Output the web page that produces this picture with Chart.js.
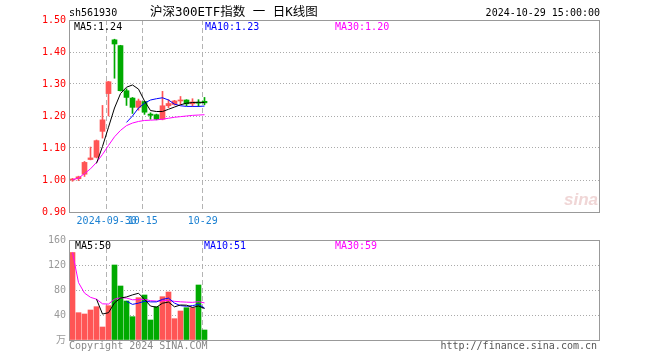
<!DOCTYPE html>
<html>
<head>
<meta charset="utf-8">
<script src="https://cdn.jsdelivr.net/npm/chart.js@4"></script>
<style>
  body { margin: 0; background: #fff; }
  #wrap { position: relative; width: 660px; height: 360px; }
  #kline { position: absolute; left: 0; top: 0; }
  #vol { position: absolute; left: 0; top: 230px; }
</style>
</head>
<body>
<div id="wrap">
  <canvas id="kline" width="660" height="232"></canvas>
  <canvas id="vol" width="660" height="130"></canvas>
</div>
<script>
// trading days
const days = ['09-20', '09-23', '09-24', '09-25', '09-26', '09-27', '09-30', '10-08', '10-09', '10-10', '10-11', '10-14',
              '10-15', '10-16', '10-17', '10-18', '10-21', '10-22', '10-23', '10-24', '10-25', '10-28', '10-29'];

const open  = [1.000, 1.004, 1.018, 1.064, 1.071, 1.152, 1.270, 1.438, 1.420, 1.279, 1.256, 1.227,
               1.245, 1.206, 1.204, 1.190, 1.232, 1.236, 1.247, 1.250, 1.238, 1.242, 1.246];
const close = [1.003, 1.010, 1.055, 1.069, 1.123, 1.188, 1.307, 1.425, 1.279, 1.258, 1.227, 1.247,
               1.212, 1.202, 1.190, 1.232, 1.239, 1.247, 1.249, 1.238, 1.244, 1.240, 1.241];
const high  = [1.005, 1.012, 1.058, 1.103, 1.125, 1.233, 1.308, 1.440, 1.421, 1.285, 1.258, 1.253,
               1.246, 1.210, 1.206, 1.277, 1.251, 1.249, 1.261, 1.251, 1.254, 1.251, 1.258];
const low   = [0.996, 0.998, 1.011, 1.063, 1.069, 1.131, 1.200, 1.318, 1.278, 1.233, 1.208, 1.218,
               1.205, 1.190, 1.188, 1.188, 1.226, 1.234, 1.236, 1.232, 1.230, 1.230, 1.235];

// moving averages
const ma5  = [null, null, null, null, 1.052, 1.105, 1.165, 1.225, 1.270, 1.290, 1.297, 1.284,
              1.247, 1.217, 1.214, 1.214, 1.221, 1.228, 1.235, 1.240, 1.242, 1.243, 1.242];
const ma10 = [null, null, null, null, null, null, null, null, null, 1.180, 1.200, 1.225,
              1.240, 1.250, 1.254, 1.257, 1.250, 1.237, 1.232, 1.230, 1.230, 1.230, 1.231];
const ma30 = [1.001, 1.006, 1.020, 1.035, 1.055, 1.080, 1.108, 1.135, 1.155, 1.170, 1.178, 1.183,
              1.186, 1.187, 1.188, 1.190, 1.193, 1.196, 1.198, 1.200, 1.202, 1.203, 1.204];

// volume (万)
const volume = [140, 43.7, 41.6, 48, 53.3, 20.8, 54.9, 120, 86.4, 62.4, 37.3, 67.7,
                72, 32, 53.3, 69.3, 76.8, 34.1, 46.4, 51.7, 51.7, 88, 16];
const vma5  = [null, null, null, null, 65.3, 41.5, 43.7, 59.4, 67.1, 68.9, 72.2, 74.8,
               65.2, 54.3, 52.5, 58.9, 60.7, 53.1, 56.0, 55.7, 52.1, 54.4, 50.4];
const vma10 = [null, null, null, null, null, null, null, null, null, 62, 57, 59,
               62, 61, 61, 65, 67, 59, 55, 54, 55, 57, 51.2];
const vma30 = [140, 91.9, 75.1, 68.3, 65.3, 57.9, 57.5, 65.3, 67.6, 67.1, 64.4, 64.7,
               65.2, 62.9, 62.2, 62.7, 63.5, 61.9, 61.1, 60.6, 60.2, 61.4, 59.4];

// tick labels
const priceTicks = [0.9, 1.0, 1.1, 1.2, 1.3, 1.4, 1.5];
const volTicks = [0, 40, 80, 120, 160];
const dateTickDays = ['09-30', '10-15', '10-29'];
const dateLabels = ['2024-09-30', '10-15', '10-29'];

const mono = "'DejaVu Sans Mono', 'Noto Sans CJK SC', monospace";
const RED = '#ff5555', GREEN = '#00aa00';
const colors = open.map((o, i) => close[i] >= o ? RED : GREEN);

// x: one day = 6px, plot 70..599
const xMin = -5 / 12, xMax = 87.75;
const dateTicks = dateTickDays.map(d => days.indexOf(d) - 0.3);

function pts(arr) {
    return arr.map((v, i) => ({x: i, y: v}));
}

function lineSet(arr, color) {
    return {type: 'line', data: pts(arr), borderColor: color, borderWidth: 1, pointRadius: 0, tension: 0, order: 1};
}

const xScale = (showLabels) => ({
    type: 'linear', min: xMin, max: xMax, offset: false,
    afterBuildTicks: s => { s.ticks = dateTicks.map(v => ({value: v})); },
    afterFit: s => { s.height = 20; },
    ticks: {display: showLabels, autoSkip: false, maxRotation: 0, minRotation: 0, padding: 3,
            color: '#1e82d2', font: {family: mono, size: 10},
            callback: (v, i) => dateLabels[i]},
    grid: {color: '#b4b4b4', drawTicks: false, offset: false},
    border: {display: false, dash: [5, 3]}
});

const framePlugin = {
    id: 'frame',
    beforeDatasetsDraw(chart) {
        const {ctx, chartArea: a} = chart;
        ctx.save();
        ctx.strokeStyle = '#999';
        ctx.lineWidth = 1;
        ctx.strokeRect(a.left - 0.5, a.top + 0.5, a.right - a.left + 1, a.bottom - a.top);
        ctx.restore();
    }
};

function legend(ctx, y, items) {
    ctx.save();
    ctx.font = '10px ' + mono;
    ctx.textBaseline = 'middle';
    items.forEach(([x, text, color]) => {
        ctx.fillStyle = color;
        ctx.fillText(text, x, y);
    });
    ctx.restore();
}

const klineText = {
    id: 'klineText',
    beforeDatasetsDraw(chart) {
        const ctx = chart.ctx;
        ctx.save();
        ctx.font = 'italic bold 17px "Liberation Sans", sans-serif';
        ctx.fillStyle = '#f0d6d6';
        ctx.fillText('sina', 564, 205);
        ctx.restore();
    },
    afterDraw(chart) {
        const ctx = chart.ctx;
        ctx.save();
        ctx.fillStyle = '#000';
        ctx.textBaseline = 'middle';
        ctx.font = '10px ' + mono;
        ctx.fillText('sh561930', 69, 13);
        ctx.font = '12.5px ' + mono;
        ctx.fillText('沪深300ETF指数 一 日K线图', 150, 13);
        ctx.font = '10px ' + mono;
        ctx.textAlign = 'right';
        ctx.fillText('2024-10-29 15:00:00', 600, 13);
        ctx.restore();
        const n = days.length - 1;
        legend(ctx, 27, [
            [74, 'MA5:' + ma5[n].toFixed(2), '#000'],
            [205, 'MA10:' + ma10[n].toFixed(2), '#0000ff'],
            [335, 'MA30:' + ma30[n].toFixed(2), '#ff00ff']
        ]);
    }
};

const volText = {
    id: 'volText',
    afterDraw(chart) {
        const ctx = chart.ctx;
        const n = days.length - 1;
        legend(ctx, 16, [
            [75, 'MA5:' + Math.round(vma5[n]), '#000'],
            [204, 'MA10:' + Math.round(vma10[n]), '#0000ff'],
            [335, 'MA30:' + Math.round(vma30[n]), '#ff00ff']
        ]);
        ctx.save();
        ctx.font = '10px ' + mono;
        ctx.textBaseline = 'middle';
        ctx.fillStyle = '#888';
        ctx.fillText('Copyright 2024 SINA.COM', 69, 116);
        ctx.fillStyle = '#555';
        ctx.textAlign = 'right';
        ctx.fillText('http://finance.sina.com.cn', 597, 116);
        ctx.restore();
    }
};

const klineChart = new Chart(document.getElementById('kline'), {
    type: 'bar',
    data: {
        datasets: [
            {type: 'bar', data: days.map((d, i) => ({x: i, y: [low[i], high[i]]})),
             backgroundColor: colors, barThickness: 1, grouped: false, order: 3},
            {type: 'bar', data: days.map((d, i) => ({x: i, y: [open[i], close[i]]})),
             backgroundColor: colors, barThickness: 5, minBarLength: 1, grouped: false, order: 2},
            lineSet(ma5, '#000000'),
            lineSet(ma10, '#0000ff'),
            lineSet(ma30, '#ff00ff')
        ]
    },
    options: {
        responsive: false,
        animation: false,
        events: [],
        layout: {padding: {left: 0, right: 61, top: 20, bottom: 0}},
        plugins: {legend: {display: false}, tooltip: {enabled: false}},
        scales: {
            x: xScale(true),
            y: {
                min: 0.9, max: 1.5,
                afterBuildTicks: s => { s.ticks = priceTicks.map(v => ({value: v})); },
                afterFit: s => { s.width = 70; },
                ticks: {padding: 4, color: '#ff0000', font: {family: mono, size: 10},
                        callback: v => v.toFixed(2)},
                grid: {drawTicks: false,
                       color: c => (c.tick && (c.tick.value === 0.9 || c.tick.value === 1.5)) ? 'rgba(0,0,0,0)' : '#aaaaaa'},
                border: {display: false, dash: [1, 2]}
            }
        }
    },
    plugins: [framePlugin, klineText]
});

const volChart = new Chart(document.getElementById('vol'), {
    type: 'bar',
    data: {
        datasets: [
            {type: 'bar', data: pts(volume), backgroundColor: colors, barThickness: 5, grouped: false, order: 2},
            lineSet(vma5, '#000000'),
            lineSet(vma10, '#0000ff'),
            lineSet(vma30, '#ff00ff')
        ]
    },
    options: {
        responsive: false,
        animation: false,
        events: [],
        layout: {padding: {left: 0, right: 61, top: 10, bottom: 0}},
        plugins: {legend: {display: false}, tooltip: {enabled: false}},
        scales: {
            x: xScale(false),
            y: {
                min: 0, max: 160,
                afterBuildTicks: s => { s.ticks = volTicks.map(v => ({value: v})); },
                afterFit: s => { s.width = 70; },
                ticks: {padding: 4, color: '#999999', font: {family: mono, size: 10},
                        callback: v => v === 0 ? '万' : String(v)},
                grid: {drawTicks: false,
                       color: c => (c.tick && (c.tick.value === 0 || c.tick.value === 160)) ? 'rgba(0,0,0,0)' : '#aaaaaa'},
                border: {display: false, dash: [1, 2]}
            }
        }
    },
    plugins: [framePlugin, volText]
});
</script>
</body>
</html>
